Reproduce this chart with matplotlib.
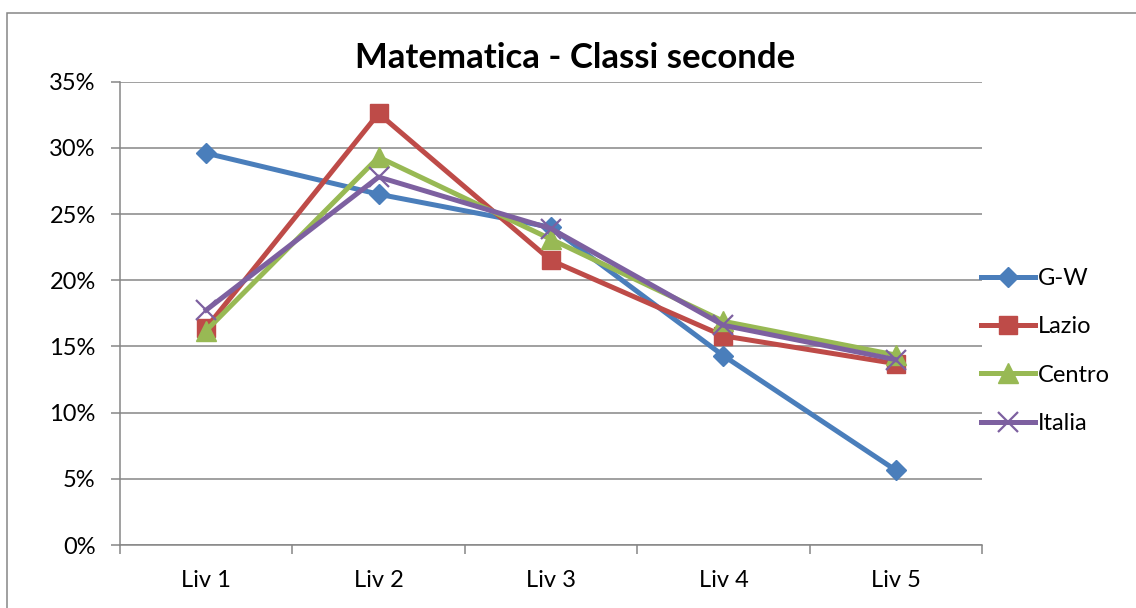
import matplotlib
matplotlib.use("Agg")
import matplotlib.pyplot as plt
from matplotlib.patches import Rectangle
from matplotlib.ticker import FixedLocator, PercentFormatter

plt.rcParams['font.family'] = ['Lato', 'DejaVu Sans']

categories = ["Liv 1", "Liv 2", "Liv 3", "Liv 4", "Liv 5"]
gw = [29.6, 26.5, 24.0, 14.3, 5.65]
lazio = [16.4, 32.6, 21.5, 15.8, 13.7]
centro = [16.2, 29.3, 23.1, 16.9, 14.35]
italia = [17.75, 27.8, 23.9, 16.6, 14.0]
series_names = ["G-W", "Lazio", "Centro", "Italia"]
title = "Matematica - Classi seconde"
yticks = [0, 5, 10, 15, 20, 25, 30, 35]

W, H = 1136, 608
fig = plt.figure(figsize=(W / 100, H / 100), dpi=100)
ax = fig.add_axes([120 / W, 1 - 545 / H, (982 - 120) / W, (545 - 81.7) / H])

grey = "#868686"
x = list(range(len(categories)))
styles = [
    (gw, "#4A7EBB", dict(marker="D", markersize=10.5, markerfacecolor="#4A7EBB", markeredgecolor="#4A7EBB")),
    (lazio, "#BE4B48", dict(marker="s", markersize=13.5, markerfacecolor="#BE4B48", markeredgecolor="#BE4B48")),
    (centro, "#98B954", dict(marker="^", markersize=14, markerfacecolor="#98B954", markeredgecolor="#98B954")),
    (italia, "#7D60A0", dict(marker="x", markersize=14, markeredgewidth=1.6, markeredgecolor="#7D60A0")),
]
for (vals, col, mk), name in zip(styles, series_names):
    ax.plot(x, vals, color=col, linewidth=3.6, label=name, solid_joinstyle="round", **mk)

ax.set_xlim(-0.5, 4.5)
ax.set_ylim(0, 35)
ax.set_yticks(yticks)
ax.yaxis.set_major_formatter(PercentFormatter(decimals=0))
ax.set_xticks(x)
ax.set_xticklabels(categories)
ax.xaxis.set_minor_locator(FixedLocator([i - 0.5 for i in range(len(categories) + 1)]))
ax.tick_params(axis="x", which="major", length=0, pad=18, labelsize=17)
ax.tick_params(axis="x", which="minor", length=6.5, width=1.1, color=grey, direction="out")
ax.tick_params(axis="y", length=6.5, width=1.1, color=grey, pad=11, labelsize=17)

ax.grid(axis="y", color=grey, linewidth=1.1)
ax.set_axisbelow(True)
for s in ["top", "right"]:
    ax.spines[s].set_visible(False)
for s in ["left", "bottom"]:
    ax.spines[s].set_color(grey)
    ax.spines[s].set_linewidth(1.1)

fig.text(575.5 / W, 1 - 58 / H, title, ha="center", va="center", fontsize=25, fontweight="bold")

leg = fig.legend(loc="center left", bbox_to_anchor=(981 / W, 1 - 351 / H), frameon=False,
                 fontsize=17, handlelength=2.29, handletextpad=0.13, labelspacing=1.16,
                 borderpad=0, borderaxespad=0)

fig.add_artist(Rectangle((7 / W, -0.1), 1.2, 1 - 13.3 / H + 0.1, transform=fig.transFigure,
                         fill=False, edgecolor=grey, linewidth=1.1))

fig.savefig("out.png", dpi=100)
